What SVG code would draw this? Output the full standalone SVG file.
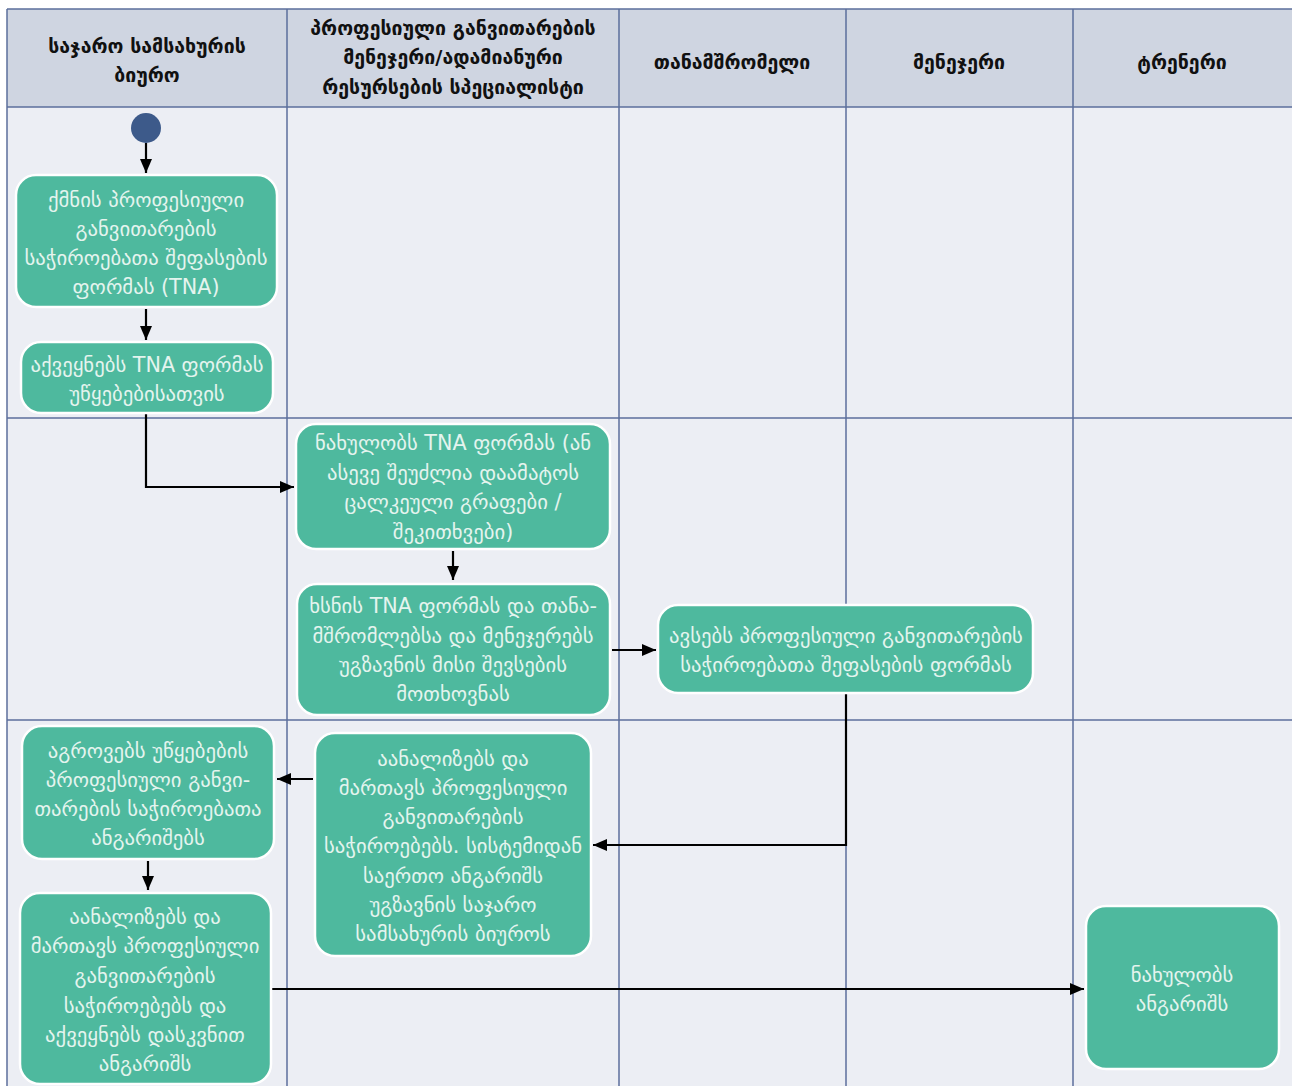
<svg xmlns="http://www.w3.org/2000/svg" width="1292" height="1086" viewBox="0 0 1292 1086">
  <style>
    .hdr { fill: #cfd5e1; }
    .lane { fill: #eceef4; }
    .grid { stroke: #5c6f9c; stroke-width: 1.5; fill: none; }
    .htxt { font-family: "DejaVu Sans", "Noto Sans", sans-serif; font-size: 19.5px; font-weight: bold; fill: #111; text-anchor: middle; dominant-baseline: central; }
    .box { fill: #4eb99e; stroke: #ffffff; stroke-width: 2.5; }
    .ntxt { font-family: "DejaVu Sans", "Noto Sans", sans-serif; font-size: 20.7px; fill: #e4f4ee; text-anchor: middle; dominant-baseline: central; }
    .edge { stroke: #000; stroke-width: 2.2; fill: none; marker-end: url(#arrow); }
  </style>
  <defs>
    <marker id="arrow" viewBox="0 0 14 12" refX="14" refY="6" markerWidth="14" markerHeight="12" markerUnits="userSpaceOnUse" orient="auto">
      <path d="M0,0 L14,6 L0,12 Z" fill="#000"/>
    </marker>
  </defs>

  <rect width="1292" height="1086" fill="#ffffff"/>

  <!-- swimlane grid -->
  <g id="lanes">
    <rect class="hdr" x="7" y="9" width="1290" height="98"/>
    <rect class="lane" x="7" y="107" width="1290" height="985"/>
    <path class="grid" d="M7,9 H1292 M7,107 H1292 M7,418 H1292 M7,720 H1292 M7,9 V1092 M287,9 V1092 M619,9 V1092 M846,9 V1092 M1073,9 V1092"/>
    <text class="htxt" x="147" y="46">საჯარო სამსახურის</text>
    <text class="htxt" x="147" y="75">ბიურო</text>
    <text class="htxt" x="453" y="28">პროფესიული განვითარების</text>
    <text class="htxt" x="453" y="57">მენეჯერი/ადამიანური</text>
    <text class="htxt" x="453" y="87">რესურსების სპეციალისტი</text>
    <text class="htxt" x="732" y="62">თანამშრომელი</text>
    <text class="htxt" x="959" y="62">მენეჯერი</text>
    <text class="htxt" x="1182" y="62">ტრენერი</text>
  </g>

  <!-- connectors -->
  <g id="connectors">
    <path class="edge" d="M146,143 V173"/>
    <path class="edge" d="M146,309 V340"/>
    <path class="edge" d="M146,414 V487 H294"/>
    <path class="edge" d="M453,551 V580"/>
    <path class="edge" d="M612,650 H656"/>
    <path class="edge" d="M846,694 V845 H593"/>
    <path class="edge" d="M313,779 H277"/>
    <path class="edge" d="M148,861 V890"/>
    <path class="edge" d="M272,989 H1084"/>
  </g>

  <!-- start -->
  <g id="start">
    <circle cx="146" cy="128" r="15" fill="#3d5a8a"/>
  </g>

  <g id="create-form">
    <rect class="box" x="16" y="175" width="261" height="132" rx="20"/>
    <text class="ntxt" x="146" y="200">ქმნის პროფესიული</text>
    <text class="ntxt" x="146" y="229">განვითარების</text>
    <text class="ntxt" x="146" y="258">საჭიროებათა შეფასების</text>
    <text class="ntxt" x="146" y="287">ფორმას (TNA)</text>
  </g>

  <g id="publish-form">
    <rect class="box" x="21" y="342" width="252" height="71" rx="20"/>
    <text class="ntxt" x="147" y="365">აქვეყნებს TNA ფორმას</text>
    <text class="ntxt" x="147" y="394">უწყებებისათვის</text>
  </g>

  <g id="review-form">
    <rect class="box" x="296" y="424" width="314" height="125" rx="20"/>
    <text class="ntxt" x="453" y="443">ნახულობს TNA ფორმას (ან</text>
    <text class="ntxt" x="453" y="473">ასევე შეუძლია დაამატოს</text>
    <text class="ntxt" x="453" y="502">ცალკეული გრაფები /</text>
    <text class="ntxt" x="453" y="532">შეკითხვები)</text>
  </g>

  <g id="open-form">
    <rect class="box" x="297" y="584" width="313" height="131" rx="20"/>
    <text class="ntxt" x="453" y="606">ხსნის TNA ფორმას და თანა-</text>
    <text class="ntxt" x="453" y="636">მშრომლებსა და მენეჯერებს</text>
    <text class="ntxt" x="453" y="665">უგზავნის მისი შევსების</text>
    <text class="ntxt" x="453" y="694">მოთხოვნას</text>
  </g>

  <g id="fill-form">
    <rect class="box" x="658" y="605" width="375" height="88" rx="20"/>
    <text class="ntxt" x="846" y="636">ავსებს პროფესიული განვითარების</text>
    <text class="ntxt" x="846" y="665">საჭიროებათა შეფასების ფორმას</text>
  </g>

  <g id="analyse-send">
    <rect class="box" x="315" y="733" width="276" height="223" rx="20"/>
    <text class="ntxt" x="453" y="759">აანალიზებს და</text>
    <text class="ntxt" x="453" y="788">მართავს პროფესიული</text>
    <text class="ntxt" x="453" y="817">განვითარების</text>
    <text class="ntxt" x="453" y="846">საჭიროებებს. სისტემიდან</text>
    <text class="ntxt" x="453" y="876">საერთო ანგარიშს</text>
    <text class="ntxt" x="453" y="905">უგზავნის საჯარო</text>
    <text class="ntxt" x="453" y="934">სამსახურის ბიუროს</text>
  </g>

  <g id="collect-reports">
    <rect class="box" x="22" y="726" width="252" height="133" rx="20"/>
    <text class="ntxt" x="148" y="751">აგროვებს უწყებების</text>
    <text class="ntxt" x="148" y="780">პროფესიული განვი-</text>
    <text class="ntxt" x="148" y="809">თარების საჭიროებათა</text>
    <text class="ntxt" x="148" y="838">ანგარიშებს</text>
  </g>

  <g id="final-report">
    <rect class="box" x="20" y="893" width="251" height="191" rx="20"/>
    <text class="ntxt" x="145" y="917">აანალიზებს და</text>
    <text class="ntxt" x="145" y="946">მართავს პროფესიული</text>
    <text class="ntxt" x="145" y="976">განვითარების</text>
    <text class="ntxt" x="145" y="1006">საჭიროებებს და</text>
    <text class="ntxt" x="145" y="1035">აქვეყნებს დასკვნით</text>
    <text class="ntxt" x="145" y="1064">ანგარიშს</text>
  </g>

  <g id="view-report">
    <rect class="box" x="1086" y="906" width="193" height="163" rx="20"/>
    <text class="ntxt" x="1182" y="975">ნახულობს</text>
    <text class="ntxt" x="1182" y="1004">ანგარიშს</text>
  </g>
</svg>
